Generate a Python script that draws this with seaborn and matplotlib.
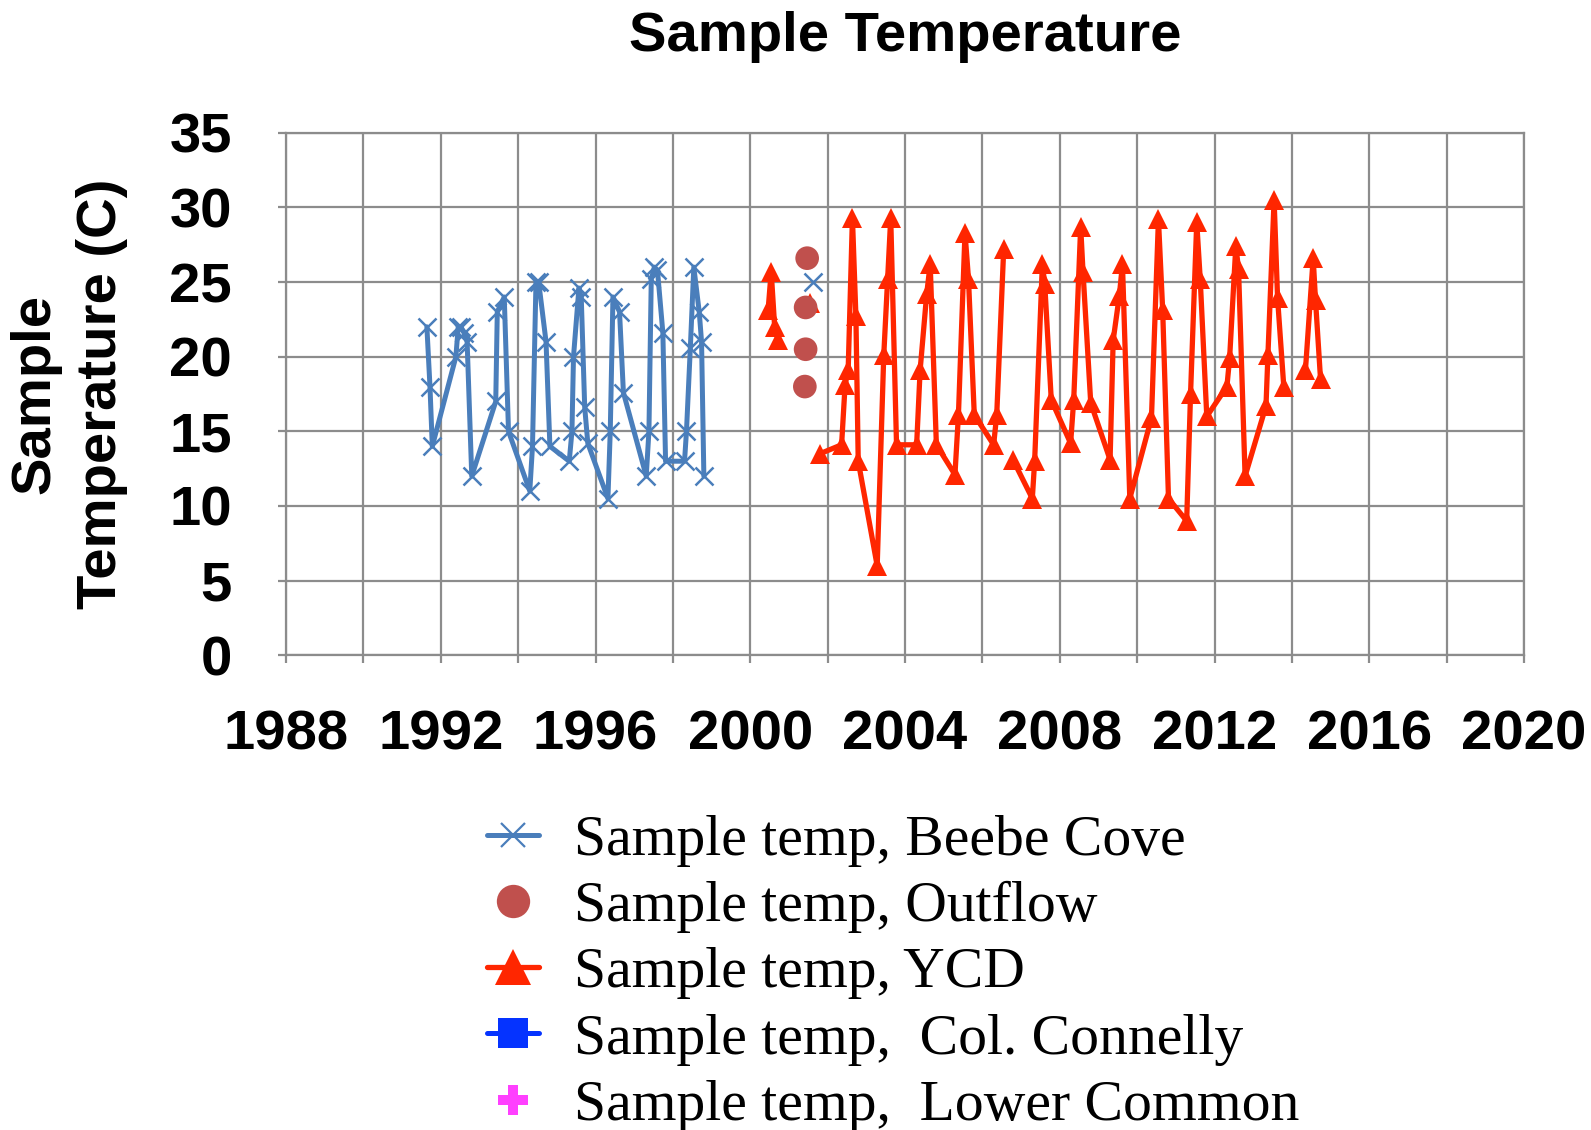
import matplotlib
matplotlib.use("Agg")
import numpy as np
import pandas as pd
import seaborn as sns
import matplotlib.pyplot as plt
from matplotlib.lines import Line2D
from matplotlib.ticker import MultipleLocator, FuncFormatter

# ---------------- data ----------------
beebe_year = [1991.64, 1991.72, 1991.78, 1992.39, 1992.45, 1992.52, 1992.60, 1992.68, 1992.80,
              1993.42, 1993.46, 1993.64, 1993.75, 1994.30, 1994.37, 1994.46, 1994.53, 1994.72,
              1994.82, 1995.32, 1995.39, 1995.43, 1995.57, 1995.63, 1995.72, 1995.80, 1996.32,
              1996.38, 1996.45, 1996.62, 1996.72, 1997.31, 1997.38, 1997.44, 1997.52, 1997.60,
              1997.74, 1997.81, 1998.30, 1998.35, 1998.45, 1998.54, 1998.68, 1998.74, 1998.80,
              2001.62]
beebe_temp = [22, 18, 14, 20, 22, 22, 21.6, 21, 12,
              17, 23, 24, 15, 11, 14, 25, 25, 21,
              14, 13, 15, 20, 24.6, 24, 16.6, 14.2, 10.5,
              15, 24, 23, 17.6, 12, 15, 25.2, 26, 25.8,
              21.6, 13, 13, 15, 20.6, 26, 23, 21, 12,
              25]
beebe_segment = [0] * 45 + [1]

outflow_year = [2001.47, 2001.43, 2001.43, 2001.41]
outflow_temp = [26.6, 23.3, 20.5, 18.0]

ycd_year = [2000.46, 2000.54, 2000.63, 2000.72,
            2001.54,
            2001.80, 2002.36, 2002.45, 2002.53, 2002.64, 2002.73, 2002.79, 2003.28, 2003.45,
            2003.55, 2003.63, 2003.78, 2004.30, 2004.39, 2004.56, 2004.65, 2004.81, 2005.29,
            2005.38, 2005.55, 2005.64, 2005.79, 2006.29, 2006.37, 2006.55,
            2006.79, 2007.29, 2007.35, 2007.55, 2007.61, 2007.78, 2008.28, 2008.36, 2008.54,
            2008.60, 2008.80, 2009.30, 2009.38, 2009.54, 2009.62, 2009.81, 2010.37, 2010.55,
            2010.66, 2010.81, 2011.28, 2011.38, 2011.54, 2011.63, 2011.80, 2012.32, 2012.39,
            2012.55, 2012.62, 2012.79, 2013.33, 2013.38, 2013.54, 2013.63, 2013.79,
            2014.35, 2014.55, 2014.61, 2014.74]
ycd_temp = [23.1, 25.7, 22.0, 21.1,
            23.6,
            13.5, 14.1, 18.1, 19.1, 29.3, 22.7, 13.0, 6.0, 20.1,
            25.2, 29.3, 14.1, 14.1, 19.1, 24.2, 26.2, 14.1, 12.1,
            16.1, 28.3, 25.2, 16.1, 14.1, 16.1, 27.2,
            13.1, 10.5, 13.0, 26.2, 24.9, 17.1, 14.2, 17.1, 28.7,
            25.7, 16.9, 13.1, 21.1, 24.1, 26.2, 10.5, 15.9, 29.2,
            23.1, 10.5, 9.0, 17.5, 29.0, 25.2, 16.0, 18.0, 19.9,
            27.4, 25.9, 12.0, 16.7, 20.1, 30.5, 23.9, 18.0,
            19.1, 26.6, 23.8, 18.5]
ycd_segment = [0] * 4 + [1] + [2] * 25 + [3] * 35 + [4] * 4

series_labels = ["Sample temp, Beebe Cove", "Sample temp, Outflow", "Sample temp, YCD",
                 "Sample temp,  Col. Connelly", "Sample temp,  Lower Common"]
x_ticks = list(range(1988, 2021, 2))
y_ticks = list(range(0, 36, 5))

# ---------------- styling ----------------
C_BEEBE = "#4A7EBB"
C_OUT = "#C0504D"
C_YCD = "#FF2600"
C_CONN = "#0533FF"
C_LOWER = "#FF40FF"
GRID = "#8C8C8C"
FS = 40.5

sns.set_theme(style="white")
plt.rcParams["font.family"] = ["Liberation Sans", "DejaVu Sans"]
plt.rcParams["text.color"] = "black"
plt.rcParams["axes.labelcolor"] = "black"
plt.rcParams["xtick.color"] = "black"
plt.rcParams["ytick.color"] = "black"

fig = plt.figure(figsize=(15.91, 11.30), dpi=100)
ax = fig.add_axes([0.1798, 0.4201, 0.9579 - 0.1798, 0.8825 - 0.4201])

beebe_df = pd.DataFrame({"year": beebe_year, "temp": beebe_temp, "seg": beebe_segment})
ycd_df = pd.DataFrame({"year": ycd_year, "temp": ycd_temp, "seg": ycd_segment})
out_df = pd.DataFrame({"year": outflow_year, "temp": outflow_temp})

sns.lineplot(data=beebe_df, x="year", y="temp", units="seg", estimator=None, sort=False,
             color=C_BEEBE, linewidth=3.6, marker="x", markersize=13,
             markeredgewidth=1.8, markeredgecolor=C_BEEBE, ax=ax, legend=False, zorder=3)
sns.lineplot(data=ycd_df, x="year", y="temp", units="seg", estimator=None, sort=False,
             color=C_YCD, linewidth=3.8, marker="^", markersize=15,
             markeredgewidth=0, ax=ax, legend=False, zorder=3)
sns.scatterplot(data=out_df, x="year", y="temp", color=C_OUT, s=290, edgecolor="none",
                ax=ax, legend=False, zorder=4)

ax.set_xlim(1988, 2020)
ax.set_ylim(0, 35)
ax.set_xticks(x_ticks)
ax.set_yticks(y_ticks)
ax.xaxis.set_major_formatter(FuncFormatter(lambda v, p: f"{int(round(v))}" if int(round(v)) % 4 == 0 else ""))

ax.grid(True, color=GRID, linewidth=1.6)
ax.set_axisbelow(True)
for s in ax.spines.values():
    s.set_visible(True)
    s.set_color(GRID)
    s.set_linewidth(1.6)

ax.tick_params(axis="both", which="major", direction="out", length=6, width=1.6,
               color=GRID, labelsize=FS, pad=33, labelcolor="black",
               bottom=True, left=True)
for lab in ax.get_xticklabels() + ax.get_yticklabels():
    lab.set_fontweight("bold")

ax.set_xlabel("")
ax.set_ylabel("Sample\nTemperature (C)", fontsize=FS, fontweight="bold",
              va="center", linespacing=1.35, color="black")
ax.yaxis.set_label_coords(-0.1757, 0.5)

ax.set_title("Sample Temperature", fontsize=FS, fontweight="bold", y=1.183, va="center",
             pad=0, color="black")

handles = [
    Line2D([], [], color=C_BEEBE, lw=3.6, marker="x", markersize=17, markeredgewidth=1.6),
    Line2D([], [], color=C_OUT, lw=0, marker="o", markersize=24, markeredgewidth=0),
    Line2D([], [], color=C_YCD, lw=3.8, marker="^", markersize=26, markeredgewidth=0),
    Line2D([], [], color=C_CONN, lw=3.6, marker="s", markersize=21, markeredgewidth=0),
    Line2D([], [], color=C_LOWER, lw=0, marker="P", markersize=22, markeredgewidth=0),
]
leg = fig.legend(handles, series_labels, loc="upper left", bbox_to_anchor=(0.306, 0.279),
                 frameon=False, prop={"family": "Liberation Serif", "size": 41.5},
                 handlelength=0.9, handletextpad=0.62, labelspacing=0.24,
                 borderpad=0, borderaxespad=0)
for t in leg.get_texts():
    t.set_color("black")

fig.savefig("out.png", dpi=100)
